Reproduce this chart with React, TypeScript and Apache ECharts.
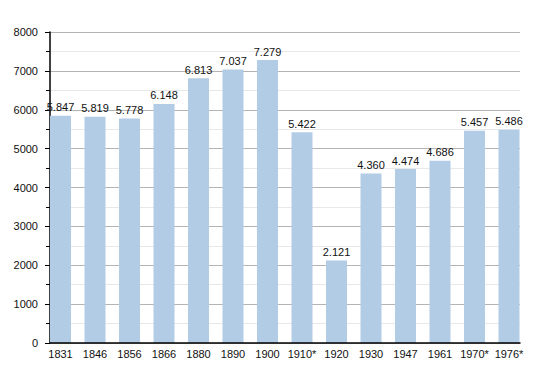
import React, { useEffect, useRef } from "react";
import * as echarts from "echarts";

const categories = ["1831", "1846", "1856", "1866", "1880", "1890", "1900", "1910*", "1920", "1930", "1947", "1961", "1970*", "1976*"];
const population = [5847, 5819, 5778, 6148, 6813, 7037, 7279, 5422, 2121, 4360, 4474, 4686, 5457, 5486];
const yTicks = { min: 0, max: 8000, interval: 1000 };

const fmt = (v: number) => {
  const s = String(Math.round(v));
  return s.replace(/\B(?=(\d{3})+(?!\d))/g, ".");
};

export default function App() {
  const ref = useRef<HTMLDivElement>(null);
  useEffect(() => {
    if (!ref.current) return;
    const chart = echarts.init(ref.current, null, { renderer: "svg" });
    const font = "Liberation Sans, Arial, sans-serif";
    chart.setOption({
      animation: false,
      backgroundColor: "#ffffff",
      grid: [
        { left: 43.25, right: 23.75, top: 32, bottom: 30 },
        { left: 50, right: 30, top: 32, bottom: 30 },
      ],
      xAxis: [
        {
          type: "category",
          gridIndex: 0,
          data: categories,
          axisLine: { show: false },
          axisTick: { show: false },
          axisLabel: { color: "#111", fontSize: 11, fontFamily: font, margin: 5, interval: 0 },
          z: 5,
        },
        {
          type: "category",
          gridIndex: 1,
          data: categories,
          axisLine: { show: true, lineStyle: { color: "#000", width: 1.5 } },
          axisTick: { show: false },
          axisLabel: { show: false },
          z: 6,
        },
      ],
      yAxis: [
        {
          type: "value",
          gridIndex: 0,
          min: yTicks.min,
          max: yTicks.max,
          interval: yTicks.interval,
          show: false,
          splitLine: { show: false },
        },
        {
          type: "value",
          gridIndex: 1,
          min: yTicks.min,
          max: yTicks.max,
          interval: yTicks.interval,
          axisLine: { show: true, lineStyle: { color: "#000", width: 1.5 } },
          axisTick: { show: true, length: 5, lineStyle: { color: "#000" } },
          minorTick: { show: true, splitNumber: 2, length: 4, lineStyle: { color: "#000" } },
          splitLine: { show: true, lineStyle: { color: "#b4b4b4", width: 1 } },
          minorSplitLine: { show: true, lineStyle: { color: "#e8e8e8", width: 1 } },
          axisLabel: { color: "#111", fontSize: 11, fontFamily: font, margin: 12, formatter: (v: number) => String(v) },
          z: 1,
        },
      ],
      series: [
        {
          type: "bar",
          xAxisIndex: 0,
          yAxisIndex: 0,
          data: population,
          barWidth: 21,
          itemStyle: { color: "#b3cce5" },
          label: {
            show: true,
            position: "top",
            distance: 3,
            color: "#111",
            fontSize: 11,
            fontFamily: font,
            formatter: (p: any) => fmt(p.value),
          },
          z: 3,
        },
      ],
    });
    return () => chart.dispose();
  }, []);
  return <div ref={ref} style={{ width: 550, height: 373, margin: -8 }} />;
}
